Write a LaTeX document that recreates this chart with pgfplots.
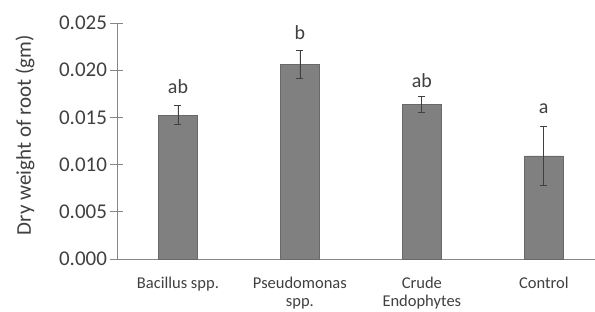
\documentclass[border=0pt]{standalone}
\usepackage{pgfplots}
\pgfplotsset{compat=1.18}
\usepackage{fontspec}
\setmainfont{Carlito}
\definecolor{barfill}{RGB}{128,128,128}
\definecolor{barline}{RGB}{105,105,105}
\definecolor{axisgray}{RGB}{134,134,134}
\definecolor{txt}{RGB}{64,64,64}
\begin{document}
\begin{tikzpicture}
\begin{axis}[
  at={(0,0)}, anchor=south west,
  scale only axis, width=478pt, height=236pt,
  xmin=-0.5, xmax=3.42, ymin=0, ymax=0.025,
  axis x line=bottom, axis y line=left,
  axis line style={axisgray, line width=0.8pt, -},
  xtick={0,1,2,3},
  xticklabels={Bacillus spp.,Pseudomonas\\spp.,Crude\\Endophytes,Control},
  xtick style={draw=none},
  xticklabel style={align=center, font=\fontsize{16.5}{18.5}\selectfont, text=txt, yshift=-8pt},
  ytick={0,0.005,0.01,0.015,0.02,0.025},
  ytick style={axisgray, line width=0.8pt},
  tick align=center, major tick length=13pt,
  scaled y ticks=false,
  yticklabel style={/pgf/number format/.cd, fixed, fixed zerofill, precision=3, assume math mode=true, /tikz/.cd, font=\fontsize{21}{24}\selectfont, text=txt},
  ylabel={Dry weight of root (gm)},
  ylabel style={at={(axis description cs:-0.1925,0.525)}, anchor=center, font=\fontsize{21}{24}\selectfont, text=txt},
  clip=false,
]
\addplot[ybar, bar width=0.32, fill=barfill, draw=barline, line width=0.6pt,
  error bars/.cd, y dir=both, y explicit,
  error bar style={black!75, line width=0.8pt},
  error mark options={rotate=90, mark size=3.5pt, black!75, line width=0.8pt}]
  coordinates {
    (0,0.01522) +- (0,0.00100)
    (1,0.02058) +- (0,0.00150)
    (2,0.01638) +- (0,0.00087)
    (3,0.01092) +- (0,0.00310)
  };
\addplot[draw=none, mark=none, nodes near coords, point meta=explicit symbolic,
  nodes near coords style={anchor=center, font=\fontsize{20}{24}\selectfont, text=txt, inner sep=0pt}]
  coordinates {
    (0,0.01829) [ab]
    (1,0.02400) [b]
    (2,0.01892) [ab]
    (3,0.01596) [a]
  };
\end{axis}
\pgfresetboundingbox
\path[use as bounding box] (-117pt,-53pt) rectangle (478pt,259pt);
\end{tikzpicture}
\end{document}
